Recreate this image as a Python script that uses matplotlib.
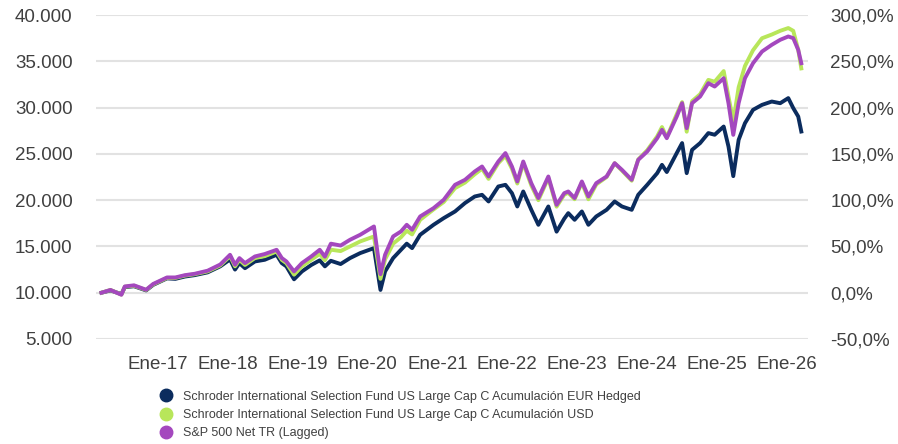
import matplotlib
matplotlib.use("Agg")
import matplotlib.pyplot as plt
import matplotlib.ticker as ticker
from matplotlib.lines import Line2D
import pandas as pd

# Values (growth of 10.000)
dates = [
    "2016-03-15", "2016-05-01", "2016-06-27", "2016-07-15", "2016-09-01", "2016-11-03",
    "2016-12-10", "2017-02-20", "2017-04-05", "2017-05-25", "2017-07-15", "2017-09-20",
    "2017-11-25", "2018-01-15", "2018-02-10", "2018-03-05", "2018-04-03", "2018-05-25",
    "2018-07-15", "2018-09-15", "2018-10-12", "2018-11-05", "2018-12-15", "2019-01-25",
    "2019-03-15", "2019-04-28", "2019-05-25", "2019-06-25", "2019-08-15", "2019-10-03",
    "2019-11-25", "2020-02-05", "2020-03-10", "2020-04-03", "2020-05-15", "2020-06-25",
    "2020-07-25", "2020-08-22", "2020-10-03", "2020-12-12", "2021-02-03", "2021-04-03",
    "2021-05-25", "2021-07-15", "2021-08-22", "2021-09-25", "2021-11-15", "2021-12-22",
    "2022-01-25", "2022-02-22", "2022-03-25", "2022-05-06", "2022-06-12", "2022-08-03",
    "2022-09-15", "2022-10-25", "2022-11-15", "2022-12-18", "2023-01-25", "2023-02-28",
    "2023-04-10", "2023-06-03", "2023-07-15", "2023-08-22", "2023-10-12", "2023-11-15",
    "2024-01-01", "2024-02-22", "2024-03-18", "2024-04-12", "2024-06-03", "2024-07-01",
    "2024-07-25", "2024-08-22", "2024-10-03", "2024-11-15", "2024-12-18", "2025-02-03",
    "2025-02-28", "2025-03-25", "2025-04-22", "2025-05-25", "2025-07-06", "2025-08-22",
    "2025-10-12", "2025-11-25", "2026-01-06", "2026-02-01", "2026-02-27", "2026-03-15",
]

eur_hedged = [
    10000, 10250, 9850, 10600, 10700, 10250,
    10850, 11550, 11500, 11750, 11900, 12200,
    12850, 13600, 12500, 13200, 12650, 13380,
    13560, 14100, 13200, 12850, 11450, 12300,
    13000, 13500, 12850, 13450, 13100, 13740,
    14280, 14820, 10300, 12300, 13740, 14640,
    15300, 14820, 16260, 17340, 18060, 18780,
    19690, 20400, 20580, 19860, 21480, 21660,
    20760, 19320, 20940, 18960, 17340, 19320,
    16600, 18000, 18600, 17880, 18780, 17340,
    18240, 18960, 19860, 19320, 18960, 20580,
    21660, 22920, 23820, 23040, 25090, 26170,
    22920, 25440, 26170, 27250, 27070, 27960,
    25800, 22600, 26520, 28320, 29760, 30300,
    30660, 30480, 31030, 29950, 29040, 27420,
]

usd = [
    10000, 10300, 9800, 10650, 10750, 10300,
    10900, 11600, 11600, 11850, 12000, 12300,
    12950, 13950, 12850, 13550, 13000, 13750,
    13950, 14450, 13550, 13200, 11950, 12850,
    13560, 14200, 13500, 14650, 14500, 15000,
    15540, 16080, 11500, 13600, 15300, 16000,
    16700, 16300, 17880, 19000, 19800, 21300,
    21900, 22800, 23400, 22300, 24000, 24800,
    23400, 21800, 24000, 21600, 20000, 22400,
    19300, 20600, 20800, 20100, 21900, 20100,
    21700, 22500, 24000, 23200, 22100, 24400,
    25400, 26900, 27900, 26800, 29300, 30600,
    27400, 30700, 31450, 33000, 32800, 33950,
    31200, 28500, 32200, 34500, 36200, 37500,
    37900, 38300, 38600, 38300, 36240, 34240,
]

sp500 = [
    10000, 10300, 9780, 10680, 10800, 10320,
    10950, 11650, 11650, 11900, 12050, 12380,
    13050, 14100, 13020, 13740, 13200, 13920,
    14180, 14640, 13750, 13380, 12300, 13200,
    13920, 14640, 13900, 15300, 15100, 15720,
    16260, 17160, 12000, 14100, 16080, 16620,
    17340, 16800, 18240, 19140, 20040, 21660,
    22200, 23100, 23640, 22560, 24180, 25090,
    23640, 22020, 24180, 21840, 20230, 22560,
    19500, 20760, 20940, 20230, 22020, 20400,
    21840, 22560, 24000, 23280, 22200, 24360,
    25260, 26700, 27600, 26700, 29040, 30480,
    27780, 30480, 31200, 32640, 32280, 33180,
    30480, 27060, 30480, 33180, 34800, 36060,
    36790, 37330, 37690, 37510, 36240, 34800,
]

series_names = [
    "Schroder International Selection Fund US Large Cap C Acumulación EUR Hedged",
    "Schroder International Selection Fund US Large Cap C Acumulación USD",
    "S&P 500 Net TR (Lagged)",
]

year_ticks = ["2017-01-01", "2018-01-01", "2019-01-01", "2020-01-01", "2021-01-01",
              "2022-01-01", "2023-01-01", "2024-01-01", "2025-01-01", "2026-01-01"]
year_labels = ["Ene-17", "Ene-18", "Ene-19", "Ene-20", "Ene-21",
               "Ene-22", "Ene-23", "Ene-24", "Ene-25", "Ene-26"]

colors = ["#0B2C5E", "#B8E65A", "#A448BE"]
text_color = "#404040"

plt.rcParams["font.family"] = ["Liberation Sans", "DejaVu Sans"]

x = pd.to_datetime(dates)
fig = plt.figure(figsize=(8.98, 4.44), dpi=100)
ax = fig.add_axes([0.107, 0.2365, 0.793, 0.7295])

for vals, c in zip([eur_hedged, usd, sp500], colors):
    ax.plot(x, vals, color=c, linewidth=2.8, solid_joinstyle="round")

ax.set_ylim(5000, 40000)
ax.set_yticks(range(5000, 40001, 5000))
ax.yaxis.set_major_formatter(ticker.FuncFormatter(lambda v, p: f"{int(v):,}".replace(",", ".")))
ax.set_xlim(pd.Timestamp("2016-02-16"), pd.Timestamp("2026-04-20"))
ax.set_xticks(pd.to_datetime(year_ticks))
ax.set_xticklabels(year_labels)
ax.grid(axis="y", color="#E2E2E2", linewidth=1.5)
ax.set_axisbelow(True)
for s in ax.spines.values():
    s.set_visible(False)
ax.tick_params(axis="both", length=0, labelsize=13.5, colors=text_color)
ax.tick_params(axis="y", pad=17)
ax.tick_params(axis="x", pad=12)

# right axis: cumulative return
ax2 = ax.twinx()
ax2.set_ylim(-50, 300)
ax2.set_yticks(range(-50, 301, 50))
ax2.yaxis.set_major_formatter(ticker.FuncFormatter(lambda v, p: f"{v:.1f}%".replace(".", ",")))
for s in ax2.spines.values():
    s.set_visible(False)
ax2.tick_params(axis="y", length=0, labelsize=13.5, colors=text_color, pad=16)

handles = [Line2D([], [], marker="o", linestyle="none", markersize=9,
                  markerfacecolor=c, markeredgecolor=c) for c in colors]
fig.legend(handles, series_names, loc="upper left", bbox_to_anchor=(0.178, 0.12),
           frameon=False, fontsize=9, labelcolor=text_color, handletextpad=0.85,
           labelspacing=0.5, borderaxespad=0, borderpad=0, handlelength=1.0)

plt.savefig("out.png", dpi=100)
plt.close()
